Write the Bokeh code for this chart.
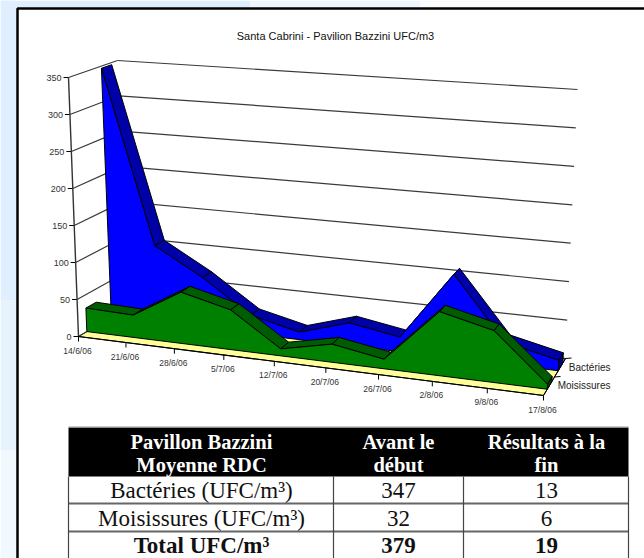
from bokeh.plotting import figure
from bokeh.models import Range1d
from bokeh.core.properties import value
from bokeh.embed import file_html
from bokeh.resources import INLINE

# ---- data ----
title = "Santa Cabrini - Pavilion Bazzini UFC/m3"
dates = ["14/6/06", "21/6/06", "28/6/06", "5/7/06", "12/7/06", "20/7/06", "26/7/06", "2/8/06", "9/8/06", "17/8/06"]
bacteries = [347, 106, 69, 25, 10, 30, 19, 108, 28, 13]
moisissures = [32, 30, 68, 52, 9, 23, 12, 79, 63, 6]
y_ticks = [0, 50, 100, 150, 200, 250, 300, 350]
series_names = ["Bactéries", "Moisissures"]
table_header = [["Pavillon Bazzini", "Moyenne RDC"], ["Avant le", "début"], ["Résultats à la", "fin"]]
table_rows = [["Bactéries (UFC/m³)", "347", "13"], ["Moisissures (UFC/m³)", "32", "6"], ["Total UFC/m³", "379", "19"]]

# ---- 3D box projection ----
VMAX = 350.0
FLB, FLT = (78, 336), (68, 77)
BLB, BLT = (127, 307), (117, 60)
BRB, BRT = (565, 358), (577, 89)
FRB, FRT = (543, 395), (561, 100)
PERSP = 1.1


def proj(u, v, w):
    pos = u / (u + PERSP * (1 - u)) if u > 0 else 0.0
    t = v / VMAX
    out = []
    for i in (0, 1):
        fb = FLB[i] + (FRB[i] - FLB[i]) * pos
        ft = FLT[i] + (FRT[i] - FLT[i]) * pos
        bb = BLB[i] + (BRB[i] - BLB[i]) * pos
        bt = BLT[i] + (BRT[i] - BLT[i]) * pos
        f = fb + (ft - fb) * t
        b = bb + (bt - bb) * t
        out.append(f + (b - f) * w)
    return out


p = figure(width=644, height=558, x_range=Range1d(0, 644), y_range=Range1d(558, 0),
           x_axis_type=None, y_axis_type=None, toolbar_location=None, output_backend="svg",
           min_border=0, outline_line_color=None, background_fill_color="white", border_fill_color="white",
           styles={"position": "absolute", "left": "0px", "top": "0px"})
p.grid.visible = False

# page background and frame
p.quad(left=[0, 0, 0], right=[16, 16, 16], top=[0, 300, 450], bottom=[300, 450, 558],
       fill_color=["#DFEFFF", "#E6F2FC", "#F1F8FE"], line_color=None)
p.quad(left=[0, 250, 420], right=[250, 420, 644], top=[0, 0, 0], bottom=[7, 7, 7],
       fill_color=["#DFEFFF", "#EFF6FD", "#FBFCFE"], line_color=None)
p.line([644, 17, 17], [8, 8, 558], line_color="black", line_width=2.5)


def poly(points, fill, line="black", lw=1):
    p.patch([a[0] for a in points], [a[1] for a in points], fill_color=fill, line_color=line, line_width=lw)


def seg(a, b, color="#3a3a3a", lw=1.2):
    p.line([a[0], b[0]], [a[1], b[1]], line_color=color, line_width=lw)


# floor
poly([proj(0, 0, 0), proj(1, 0, 0), proj(1, 0, 1), proj(0, 0, 1)], "#FFFF99")

# gridlines and axes
for t in y_ticks:
    seg(proj(0, t, 0), proj(0, t, 1))
    seg(proj(0, t, 1), proj(1, t, 1))
    a = proj(0, t, 0)
    seg((a[0] - 5, a[1]), a, "black", 1)
seg(FLB, FLT, "#333333", 1.4)

n = len(dates)
us = [i / (n - 1) for i in range(n)]

# depth axis with its ticks
seg(proj(1, 0, 0), proj(1, 0, 1), "black", 1)
for w in (0.5, 1.0):
    a = proj(1, 0, w)
    seg(a, (a[0] + 6, a[1] - 0.5), "black", 1)

# category ticks
for u in us:
    a = proj(u, 0, 0)
    seg(a, (a[0], a[1] + 5), "black", 1)


def ribbon(vals, w0, w1, face, top, side):
    for i in range(n - 1):
        poly([proj(us[i], vals[i], w0), proj(us[i + 1], vals[i + 1], w0),
              proj(us[i + 1], vals[i + 1], w1), proj(us[i], vals[i], w1)], top)
    poly([proj(1, vals[-1], w0), proj(1, vals[-1], w1), proj(1, 0, w1), proj(1, 0, w0)], side)
    pts = [proj(u, v, w0) for u, v in zip(us, vals)] + [proj(1, 0, w0), proj(0, 0, w0)]
    poly(pts, face)


ribbon(bacteries, 0.67, 0.88, "#0000FF", "#0000A8", "#000080")
ribbon(moisissures, 0.17, 0.38, "#008000", "#005C00", "#004000")

# front edge of the floor
seg(proj(0, 0, 0), proj(1, 0, 0), "black", 1.2)

SANS = value("Liberation Sans")
SERIF = value("Liberation Serif")

p.text([335], [35], text=[title], text_font=SANS, text_font_size="11px", text_color="#111111",
       text_align="center", text_baseline="middle")

ax = [proj(0, t, 0) for t in y_ticks]
p.text([a[0] - 7 for a in ax], [a[1] for a in ax], text=[str(t) for t in y_ticks], text_font=SANS,
       text_font_size="9px", text_color="#333333", text_align="right", text_baseline="middle")

cx = [proj(u, 0, 0) for u in us]
p.text([a[0] - 1 for a in cx], [a[1] + 14 for a in cx], text=dates, text_font=SANS,
       text_font_size="8.5px", text_color="#333333", text_align="center", text_baseline="middle")

p.text([610, 610], [367, 385], text=series_names, text_font=SANS, text_font_size="10px",
       text_color="#222222", text_align="right", text_baseline="middle")

# table
TL, TR, C1, C2 = 68, 628, 333, 463
TT, TH, R1, R2, TB = 427, 476, 503, 531, 558
p.quad(left=[TL], right=[TR], top=[TT], bottom=[TH], fill_color="black", line_color=None)
for y in (R1, R2):
    seg((TL, y), (TR, y), "#666666", 2)
for x in (TL, C1, C2, TR):
    seg((x, TH), (x, TB), "#444444", 1.2)
seg((TL, TT - 0.5), (TR, TT - 0.5), "#999999", 1)

col_x = [201, 398, 546]
for cx_, lines in zip(col_x, table_header):
    p.text([cx_, cx_], [441, 464], text=lines, text_font=SERIF, text_font_style="bold",
           text_font_size="20.5px", text_color="white", text_align="center", text_baseline="middle")
for y, row, style in zip([490, 518, 545], table_rows, ["normal", "normal", "bold"]):
    p.text(col_x, [y] * 3, text=row, text_font=SERIF, text_font_style=style, text_font_size="23px",
           text_color="#111111", text_align="center", text_baseline="middle")

open("out.html", "w").write(file_html(p, INLINE))
